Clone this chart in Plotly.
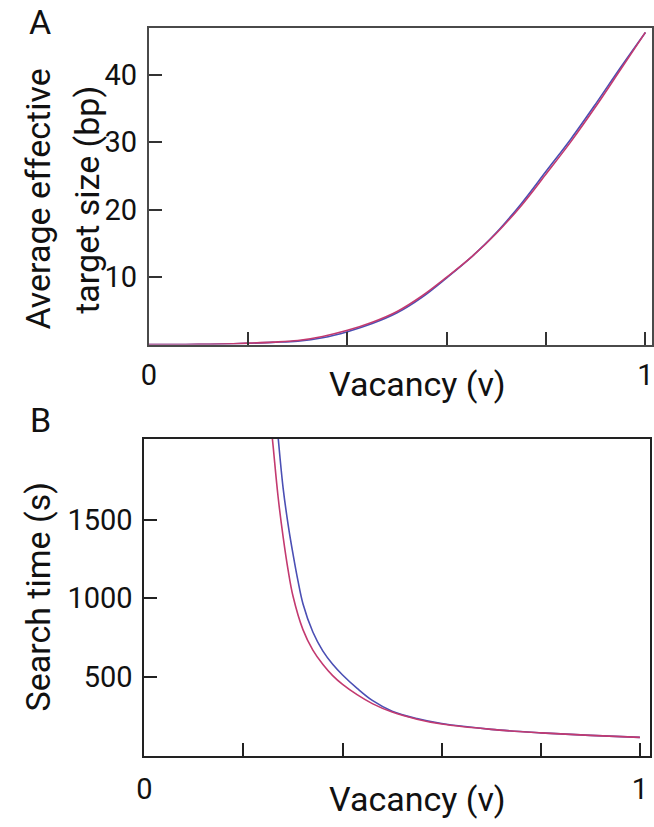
import plotly.graph_objects as go

W, H = 654, 827

# ---------------- Data ----------------
# Panel A: average effective target size (bp) vs vacancy
a_v_red = [0, 0.05, 0.1, 0.15, 0.2, 0.25, 0.3, 0.35, 0.4, 0.45, 0.5, 0.55, 0.6,
           0.65, 0.7, 0.75, 0.8, 0.85, 0.9, 0.95, 1.0]
a_y_red = [0, 0, 0.02, 0.08, 0.2, 0.35, 0.6, 1.2, 2.1, 3.3, 4.9, 7.2, 10.0,
           13.0, 16.5, 20.6, 25.3, 30.1, 35.3, 40.8, 46.3]
a_v_blue = [0, 0.05, 0.1, 0.15, 0.2, 0.25, 0.3, 0.35, 0.4, 0.45, 0.5, 0.55, 0.6,
            0.65, 0.7, 0.75, 0.8, 0.85, 0.9, 0.95, 1.0]
a_y_blue = [0, 0, 0.02, 0.07, 0.18, 0.32, 0.5, 1.0, 1.9, 3.1, 4.7, 7.0, 9.9,
            13.0, 16.6, 20.9, 25.7, 30.5, 35.7, 41.1, 46.3]

# Panel B: search time (s) vs vacancy
b_v_red = [0.255, 0.26, 0.27, 0.28, 0.29, 0.30, 0.32, 0.34, 0.36, 0.38, 0.40,
           0.43, 0.46, 0.50, 0.55, 0.60, 0.70, 0.80, 0.90, 1.00]
b_t_red = [2120, 1960, 1640, 1390, 1180, 1012, 800, 670, 580, 508, 452,
           385, 330, 276, 231, 200, 166, 144, 128, 115]
b_v_blue = [0.268, 0.27, 0.28, 0.29, 0.30, 0.31, 0.32, 0.34, 0.36, 0.38, 0.40,
            0.43, 0.46, 0.50, 0.55, 0.60, 0.70, 0.80, 0.90, 1.00]
b_t_blue = [2090, 2020, 1700, 1470, 1280, 1110, 965, 785, 665, 580, 512,
            425, 350, 282, 235, 203, 166, 144, 128, 115]

x_tickvals = [0, 0.2, 0.4, 0.6, 0.8, 1.0]
x_ticktext = ["0", "", "", "", "", "1"]
a_y_tickvals = [10, 20, 30, 40]
b_y_tickvals = [500, 1000, 1500]

BLUE = "#4b4fb4"
RED = "#c33a70"
FONT = "Roboto"


def px_x(p):
    return p / W


def px_y(p):
    return 1 - p / H


fig = go.Figure()
line_shape = dict(shape="spline", smoothing=1.0, width=1.6)

fig.add_trace(go.Scatter(x=a_v_blue, y=a_y_blue, mode="lines",
                         line=dict(color=BLUE, **line_shape), xaxis="x", yaxis="y"))
fig.add_trace(go.Scatter(x=a_v_red, y=a_y_red, mode="lines",
                         line=dict(color=RED, **line_shape), xaxis="x", yaxis="y"))
fig.add_trace(go.Scatter(x=b_v_blue, y=b_t_blue, mode="lines",
                         line=dict(color=BLUE, **line_shape), xaxis="x2", yaxis="y2"))
fig.add_trace(go.Scatter(x=b_v_red, y=b_t_red, mode="lines",
                         line=dict(color=RED, **line_shape), xaxis="x2", yaxis="y2"))

tickfont = dict(family=FONT, size=29, color="#111")
axA = dict(showline=True, linecolor="#4a4a4a", linewidth=2, mirror=True,
           ticks="inside", ticklen=13, tickwidth=1.5, tickcolor="#333",
           showgrid=False, zeroline=False, tickfont=tickfont)
axB = dict(showline=True, linecolor="#222", linewidth=1.8, mirror=True,
           ticks="inside", ticklen=13, tickwidth=1.5, tickcolor="#222",
           showgrid=False, zeroline=False, tickfont=tickfont)

fig.update_layout(
    width=W, height=H,
    margin=dict(l=0, r=0, t=0, b=0),
    paper_bgcolor="white", plot_bgcolor="white",
    showlegend=False,
    xaxis=dict(domain=[px_x(143), 1.0], range=[0, 1.0133], anchor="y",
               tickvals=x_tickvals, ticktext=x_ticktext, ticklabelstandoff=4, **axA),
    yaxis=dict(domain=[px_y(344.5), px_y(27.7)], range=[0, 47.0], anchor="x",
               tickvals=a_y_tickvals, ticklabelstandoff=4, **axA),
    xaxis2=dict(domain=[px_x(138.5), px_x(652)], range=[0, 1.0205], anchor="y2",
                tickvals=x_tickvals, ticktext=x_ticktext, ticklabelstandoff=7, **axB),
    yaxis2=dict(domain=[px_y(755.5), px_y(439)], range=[0, 2012], anchor="x2",
                tickvals=b_y_tickvals, ticklabelstandoff=4, **axB),
)


def ann(text, x, y, angle=0, size=34):
    fig.add_annotation(text=text, x=px_x(x), y=px_y(y), xref="paper", yref="paper",
                       showarrow=False, textangle=angle, xanchor="center", yanchor="middle",
                       font=dict(family=FONT, size=size, color="#111"))


ann("A", 32, 22)
ann("B", 33, 420)
ann("Vacancy (ν)", 416, 384)
ann("Vacancy (ν)", 416, 799)
ann("Average effective", 30, 199, angle=-90)
ann("target size (bp)", 80, 200, angle=-90)
ann("Search time (s)", 30, 597, angle=-90)

fig.write_html("out.html")
